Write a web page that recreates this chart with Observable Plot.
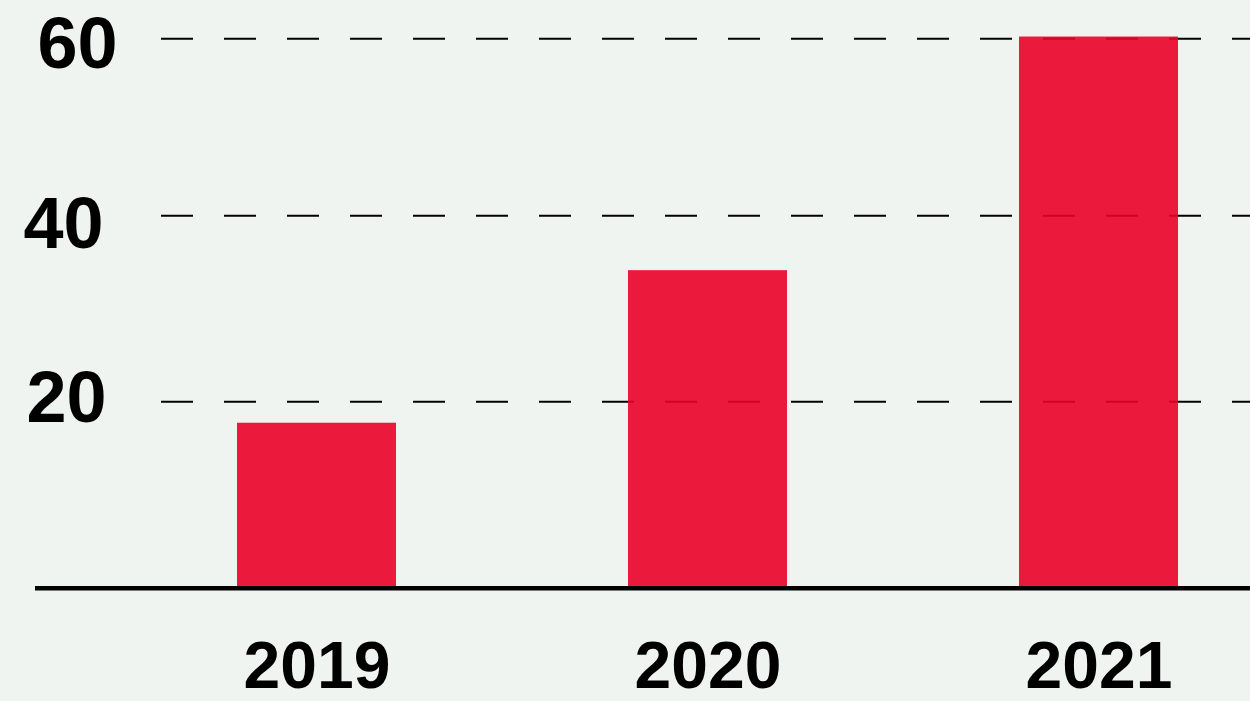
<!DOCTYPE html>
<html>
<head>
<meta charset="utf-8">
<script src="https://cdn.jsdelivr.net/npm/d3@7"></script>
<script src="https://cdn.jsdelivr.net/npm/@observablehq/plot@0.6"></script>
<style>
  html, body { margin: 0; padding: 0; background: #f0f4f1; }
  #chart { width: 1250px; height: 701px; overflow: hidden; }
</style>
</head>
<body>
<div id="chart"></div>
<script>
// Data
const years = ["2019", "2020", "2021"];
const values = [17.7, 34.1, 60.2];
const gridTicks = [20, 40, 60];
const gridLabels = ["20", "40", "60"];

const data = years.map((year, i) => ({year, value: values[i]}));
const ticks = gridTicks.map((v, i) => ({v, label: gridLabels[i]}));

// style-only tweaks for label placement
const labelDx = {20: -9, 40: -12, 60: 2};
const labelDy = {20: -3, 40: 9, 60: 6};

const chart = Plot.plot({
  width: 1250,
  height: 701,
  marginLeft: 35,
  marginRight: 0,
  marginTop: 0,
  marginBottom: 35,
  style: {background: "transparent", overflow: "visible"},
  x: {type: "band", domain: years, range: [40, 1375], paddingInner: 0.594, paddingOuter: 0.5, axis: null},
  y: {type: "linear", domain: [0, 20, 40, 60], range: [587.7, 401.3, 215.3, 38.3], axis: null},
  marks: [
    Plot.ruleY(gridTicks, {y: d => d, stroke: "#000", strokeWidth: 2, strokeDasharray: "32,31", insetLeft: 126}),
    Plot.barY(data, {x: "year", y: "value", fill: "#ea0128", fillOpacity: 0.9}),
    Plot.ruleY([0], {stroke: "#000", strokeWidth: 4.5}),
    ...ticks.map(t => Plot.text([t], {
      y: "v", text: "label", frameAnchor: "left", textAnchor: "start",
      dx: labelDx[t.v], dy: labelDy[t.v],
      fontSize: 72, fontWeight: "bold", fill: "#000",
      fontFamily: "'Liberation Sans', Arial, sans-serif"
    })),
    Plot.text(data, {
      x: "year", text: "year", frameAnchor: "bottom", lineAnchor: "middle",
      fontSize: 66, fontWeight: "bold", fill: "#000",
      fontFamily: "'Liberation Sans', Arial, sans-serif"
    })
  ]
});
document.getElementById("chart").appendChild(chart);
</script>
</body>
</html>
